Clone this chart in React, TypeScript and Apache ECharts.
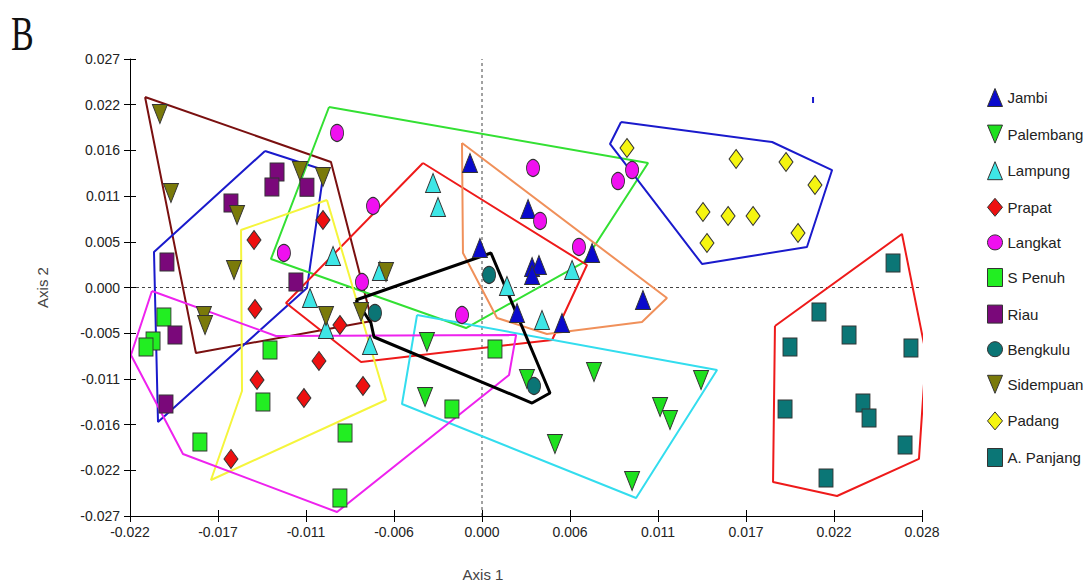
import React, { useEffect, useRef } from "react";
import * as echarts from "echarts";

const xTicks = ["-0.022", "-0.017", "-0.011", "-0.006", "0.000", "0.006", "0.011", "0.017", "0.022", "0.028"];
const yTicks = ["-0.027", "-0.022", "-0.016", "-0.011", "-0.005", "0.000", "0.005", "0.011", "0.016", "0.022", "0.027"];
const X_MIN = -0.022, X_MAX = 0.0275, X_STEP = 0.0055;
const Y_MIN = -0.027, Y_MAX = 0.027, Y_STEP = 0.0054;

const groups = ["Jambi", "Palembang", "Lampung", "Prapat", "Langkat", "S Penuh", "Riau", "Bengkulu", "Sidempuan", "Padang", "A. Panjang"];

const jambi = [[-0.00075, 0.01471], [0.00288, 0.00928], [-0.00013, 0.00467], [0.00313, 0.00242], [0.00356, 0.00266], [0.00313, 0.00148], [0.00688, 0.00408], [0.00219, -0.00301], [0.005, -0.00419], [0.01006, -0.00148]];
const palembang = [[-0.00344, -0.00644], [-0.00356, -0.01294], [0.00281, -0.01081], [0.007, -0.00998], [0.00456, -0.01849], [0.00938, -0.02286], [0.01113, -0.01412], [0.01175, -0.01566], [0.01369, -0.01093]];
const lampung = [[-0.00306, 0.01235], [-0.00275, 0.00951], [-0.00931, 0.00372], [-0.00638, 0.00195], [-0.01075, -0.00124], [-0.00975, -0.0049], [-0.007, -0.00679], [0.00156, 0.00018], [0.00563, 0.00207], [0.00375, -0.00384]];
const prapat = [[-0.00994, 0.00798], [-0.01425, 0.00561], [-0.01419, -0.00254], [-0.00888, -0.00443], [-0.01019, -0.00868], [-0.01406, -0.01093], [-0.01113, -0.01306], [-0.00744, -0.01164], [-0.01569, -0.02026]];
const langkat = [[-0.00906, 0.01826], [-0.00681, 0.00963], [0.00319, 0.01412], [0.00938, 0.01388], [0.0085, 0.01258], [0.00363, 0.00786], [0.00606, 0.00479], [-0.00125, -0.00325], [-0.01238, 0.00408], [-0.0075, 0.00065]];
const sPenuh = [[-0.01988, -0.00349], [-0.02056, -0.00632], [-0.021, -0.00703], [-0.01325, -0.00739], [-0.01369, -0.01353], [-0.01763, -0.01826], [-0.00856, -0.01719], [-0.00888, -0.02487], [0.00081, -0.00727], [-0.00188, -0.01436]];
const riau = [[-0.01281, 0.01365], [-0.01313, 0.01188], [-0.01094, 0.01184], [-0.01569, 0.00998], [-0.01969, 0.00301], [-0.01163, 0.00065], [-0.01919, -0.00561], [-0.01975, -0.01377]];
const bengkulu = [[0.00044, 0.00148], [-0.00669, -0.00301], [0.00325, -0.01164]];
const sidempuan = [[-0.02013, 0.0205], [-0.01944, 0.01117], [-0.01138, 0.01377], [-0.00994, 0.01306], [-0.01531, 0.00857], [-0.0155, 0.00207], [-0.01738, -0.00337], [-0.01731, -0.00443], [-0.00975, -0.00337], [-0.00756, -0.00289], [-0.006, 0.00183]];
const padang = [[0.00906, 0.01648], [0.01588, 0.01518], [0.019, 0.01483], [0.02081, 0.01211], [0.01381, 0.00892], [0.01538, 0.00845], [0.01694, 0.00845], [0.01975, 0.00644], [0.01406, 0.00526]];
const aPanjang = [[0.02569, 0.00289], [0.02106, -0.00289], [0.02294, -0.00561], [0.01925, -0.00703], [0.02681, -0.00715], [0.01894, -0.01436], [0.02381, -0.01365], [0.02419, -0.01542], [0.02644, -0.01861], [0.0215, -0.02251]];

const hullJambi = [[-0.00125, 0.01707], [0.01156, -0.00124], [0.01, -0.00408], [0.00406, -0.00549], [0.00094, -0.0036], [-0.00119, 0.00408]];
const hullPalembang = [[-0.00406, -0.00325], [0.01469, -0.00975], [0.00963, -0.02487], [-0.005, -0.01377]];
const hullLampung = [[-0.00369, 0.01471], [0.00656, 0.00266], [0.00438, -0.0062], [-0.00756, -0.0088], [-0.01225, -0.00183]];
const hullPrapat = [[-0.00969, 0.01034], [-0.006, -0.01329], [-0.01694, -0.02275], [-0.015, -0.01223], [-0.01506, 0.00679]];
const hullLangkat = [[-0.00956, 0.02133], [0.01038, 0.01471], [0.00638, 0.00301], [-0.001, -0.00479], [-0.01319, 0.00337]];
const hullSPenuh = [[-0.02063, -0.00041], [-0.01288, -0.00573], [0.00213, -0.00561], [0.00169, -0.01034], [-0.00906, -0.02653], [-0.01869, -0.01967], [-0.02194, -0.00798]];
const hullRiau = [[-0.01356, 0.01613], [-0.00988, 0.01388], [-0.01094, -0.00006], [-0.02025, -0.01589], [-0.0205, 0.00419]];
const hullBengkulu = [[-0.00788, -0.00148], [0.00056, 0.00408], [0.00425, -0.01247], [0.00313, -0.01365], [-0.00675, -0.00585], [-0.00694, -0.00419]];
const hullSidempuan = [[-0.02106, 0.02251], [-0.00944, 0.01483], [-0.00688, -0.00396], [-0.01788, -0.00774]];
const hullPadang = [[0.00869, 0.01956], [0.01813, 0.01719], [0.02188, 0.01388], [0.02031, 0.00479], [0.01375, 0.00278], [0.008, 0.01696]];
const hullAPanjang = [[0.01831, -0.00455], [0.02625, 0.00632], [0.02775, -0.00786], [0.02731, -0.02026], [0.02219, -0.02464], [0.01819, -0.02298]];
const strayMark = [[0.02069, 0.02251], [0.02069, 0.0218]];

const FONT = "'Liberation Sans', Arial, sans-serif";
const INVERTED = "path://M0,0 L10,0 L5,12 Z";

const groupData = [jambi, palembang, lampung, prapat, langkat, sPenuh, riau, bengkulu, sidempuan, padang, aPanjang];
const groupSymbols = ["triangle", INVERTED, "triangle", "diamond", "circle", "rect", "rect", "circle", INVERTED, "diamond", "rect"];
const groupSizes = [[15, 19], [15, 19], [15, 19], [14, 19], [13, 17], [14, 18], [14, 18], [13, 17], [15, 19], [14, 19], [14, 18]];
const groupColors = ["#0A0ACC", "#1EE01E", "#3EE6E6", "#EE1010", "#F010F0", "#22EE22", "#7A087A", "#0B7575", "#7A7A0A", "#F5F510", "#0B7676"];

const hulls = [hullSidempuan, hullRiau, hullLangkat, hullLampung, hullJambi, hullPadang, hullAPanjang, hullPalembang, hullPrapat, hullSPenuh, hullBengkulu];
const hullColors = ["#7A1010", "#1A1ACC", "#33E033", "#EE1A1A", "#F0905A", "#1A1ACC", "#EE1A1A", "#33DDEE", "#F5F53C", "#EE22EE", "#000000"];
const hullWidths = [2, 2, 2, 2, 2, 2, 2, 2, 2, 2, 3];

export default function App() {
  const ref = useRef<HTMLDivElement>(null);
  useEffect(() => {
    if (!ref.current) return;
    const chart = echarts.init(ref.current, null, { renderer: "svg" });
    const series: any[] = [];
    series.push({
      type: "line", data: [[0, Y_MIN], [0, Y_MAX]], symbol: "none", silent: true, z: 1,
      xAxisIndex: 1, yAxisIndex: 1,
      lineStyle: { color: "#444", width: 1, type: [3, 3] },
    });
    series.push({
      type: "line", data: [[X_MIN, 0], [X_MAX, 0]], symbol: "none", silent: true, z: 1,
      xAxisIndex: 1, yAxisIndex: 1,
      lineStyle: { color: "#444", width: 1, type: [3, 3] },
    });
    hulls.forEach((h, i) => {
      series.push({
        type: "line", name: "hull" + i, data: [...h, h[0]], symbol: "none", silent: true, clip: false, z: 2,
        lineStyle: { color: hullColors[i], width: hullWidths[i] },
      });
    });
    series.push({
      type: "line", name: "mark", data: strayMark, symbol: "none", silent: true, z: 2,
      lineStyle: { color: "#1A1ACC", width: 2 },
    });
    groups.forEach((g, i) => {
      series.push({
        type: "scatter", name: g, data: groupData[i], symbol: groupSymbols[i],
        symbolSize: groupSizes[i], z: 3,
        itemStyle: { color: groupColors[i], borderColor: "#333", borderWidth: 1, opacity: 1 },
      });
    });
    const xFmt = (v: number) => xTicks[Math.round((v - X_MIN) / X_STEP)] ?? "";
    const yFmt = (v: number) => yTicks[Math.round((v - Y_MIN) / Y_STEP)] ?? "";
    const axisBase = { type: "value", splitLine: { show: false }, gridIndex: 0 };
    chart.setOption({
      animation: false,
      backgroundColor: "#fff",
      grid: { left: 130, right: 161, top: 59, bottom: 70 },
      xAxis: [
        {
          ...axisBase, position: "bottom", min: X_MIN, max: X_MAX, interval: X_STEP, z: 5,
          axisLine: { onZero: false, lineStyle: { color: "#000", width: 1 } },
          axisTick: { length: 6, lineStyle: { color: "#000", width: 1 } },
          axisLabel: { formatter: xFmt, color: "#222", fontSize: 14, fontFamily: FONT, margin: 9 },
        },
        {
          ...axisBase, position: "bottom", offset: -6, min: X_MIN, max: X_MAX, interval: X_STEP, z: 5,
          axisLine: { show: false, onZero: false }, axisLabel: { show: false },
          axisTick: { show: true, length: 6, lineStyle: { color: "#000", width: 1 } },
        },
      ],
      yAxis: [
        {
          ...axisBase, position: "left", min: Y_MIN, max: Y_MAX, interval: Y_STEP, z: 5,
          axisLine: { onZero: false, lineStyle: { color: "#000", width: 1 } },
          axisTick: { length: 6, lineStyle: { color: "#000", width: 1 } },
          axisLabel: { formatter: yFmt, color: "#222", fontSize: 14, fontFamily: FONT, margin: 10 },
          name: "Axis 2", nameLocation: "middle", nameGap: 80, nameRotate: 90,
          nameTextStyle: { color: "#444", fontSize: 15, fontFamily: FONT },
        },
        {
          ...axisBase, position: "left", offset: -6, min: Y_MIN, max: Y_MAX, interval: Y_STEP, z: 5,
          axisLine: { show: false, onZero: false }, axisLabel: { show: false },
          axisTick: { show: true, length: 6, lineStyle: { color: "#000", width: 1 } },
        },
      ],
      legend: {
        data: groups, orient: "vertical", left: 982, top: 83, itemWidth: 15, itemHeight: 18, itemGap: 17.6,
        itemStyle: { borderColor: "#333", borderWidth: 1 },
        textStyle: { color: "#222", fontSize: 15, fontFamily: FONT }, selectedMode: false,
      },
      graphic: [
        { type: "text", left: 11, top: 10, scaleY: 1.4, style: { text: "B", font: "34px 'Liberation Serif', serif", fill: "#111" } },
        { type: "text", x: 483, y: 567, style: { text: "Axis 1", font: `15px ${FONT}`, fill: "#444", textAlign: "center" } },
      ],
      series,
    });
    return () => chart.dispose();
  }, []);
  return <div ref={ref} style={{ position: "absolute", left: 0, top: 0, width: 1083, height: 586 }} />;
}
